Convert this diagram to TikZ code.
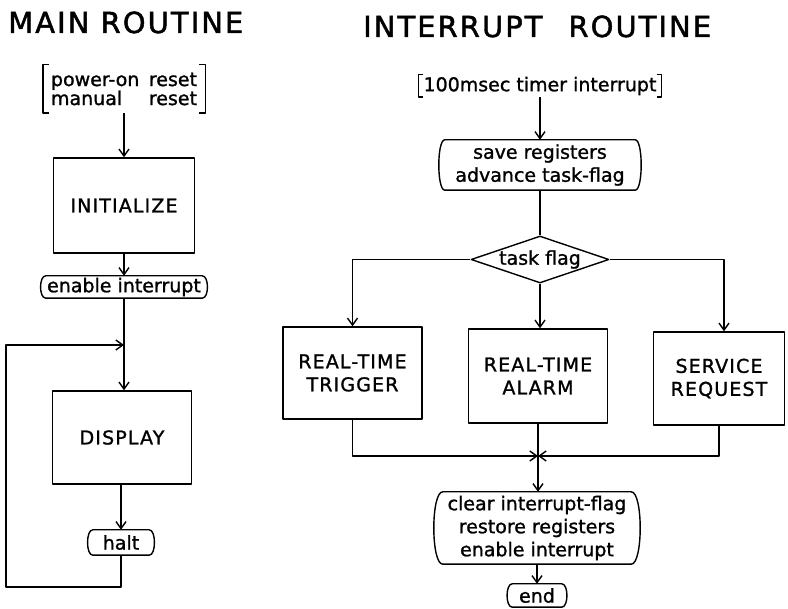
\documentclass[tikz,border=0pt]{standalone}
\usepackage{fontspec}
\setmainfont{DejaVu Sans}
\usetikzlibrary{arrows.meta,shapes.geometric}
\newcommand\bulgeoutline[2]{%
  \draw[ln] (#1.north west) -- (#1.north east)
    .. controls ([xshift=#2]#1.north east) and ([xshift=#2]#1.south east) .. (#1.south east)
    -- (#1.south west)
    .. controls ([xshift=-#2]#1.south west) and ([xshift=-#2]#1.north west) .. (#1.north west) -- cycle;}
\newcommand\bracketoutline[2]{%
  \draw[ln] ([xshift=#2]#1.north west) -- (#1.north west) -- (#1.south west) -- ([xshift=#2]#1.south west);
  \draw[ln] ([xshift=-#2]#1.north east) -- (#1.north east) -- (#1.south east) -- ([xshift=-#2]#1.south east);}
\begin{document}
\begin{tikzpicture}[x=1pt,y=-1pt,
  ln/.style={line width=1.4pt, line join=round},
  arr/.style={ln, -{Straight Barb[length=7pt,width=10pt]}},
  title/.style={font=\fontsize{29}{32}\selectfont\addfontfeature{LetterSpace=7,FakeBold=1.6}, anchor=base west, inner sep=0pt},
  capsbox/.style={draw, ln, font=\fontsize{19}{23}\selectfont\addfontfeature{LetterSpace=6,FakeBold=1.2}, align=center, inner sep=0pt},
  lower/.style={font=\fontsize{19}{23}\selectfont\addfontfeature{FakeBold=1.2}, align=center, inner sep=0pt}
]
\useasboundingbox[fill=white] (0,0) rectangle (788,609);

% titles
\node[title] (t1) at (8,33) {MAIN ROUTINE};
\node[title] (t2) at (363,37) {INTERRUPT\hspace{26pt}ROUTINE};

% main routine
\node[lower, font=\fontsize{19}{19}\selectfont\addfontfeature{FakeBold=1.2}, minimum width=162pt, minimum height=48pt] (reset) at (124,89)
  {\makebox[146pt][s]{power-on reset}\\\makebox[146pt][s]{manual reset}};
\node[capsbox, minimum width=141pt, minimum height=95pt] (init) at (124,205.5) {INITIALIZE};
\node[lower, minimum width=156pt, minimum height=22pt] (enable) at (124,287) {enable interrupt};
\node[capsbox, minimum width=139pt, minimum height=93pt] (display) at (122,437.5) {DISPLAY};
\node[lower, minimum width=56pt, minimum height=25pt] (halt) at (121,542.5) {halt};

\bracketoutline{reset}{6pt}
\bulgeoutline{enable}{7pt}
\bulgeoutline{halt}{7pt}

\draw[arr] (reset) -- (init);
\draw[arr] (init) -- (enable);
\draw[arr] (enable.south) -- (enable.south |- display.north);
\draw[arr] (display.south -| halt.north) -- (halt.north);
\coordinate (lb) at (6,587);
\coordinate (lt) at (6,345);
\draw[arr] (halt.south) -- (halt.south |- lb) -- (lb) -- (lt) -- (lt -| enable.south);

% interrupt routine
\node[lower, minimum width=243pt, minimum height=22pt] (timer) at (540,86) {100msec timer interrupt};
\node[lower, minimum width=190pt, minimum height=50pt] (save) at (540,165) {save registers\\advance task-flag};
\node[diamond, draw, ln, lower, aspect=2.9, minimum width=138pt, minimum height=47pt] (flag) at (540,259.5) {task flag};
\node[capsbox, minimum width=139pt, minimum height=92pt] (trig) at (352.5,373) {REAL-TIME\\TRIGGER};
\node[capsbox, minimum width=139pt, minimum height=94pt] (alarm) at (538,376) {REAL-TIME\\ALARM};
\node[capsbox, minimum width=131pt, minimum height=93pt] (serv) at (719,378.5) {SERVICE\\REQUEST};
\node[lower, minimum width=188pt, minimum height=72pt] (clear) at (537,528) {clear interrupt-flag\\restore registers\\enable interrupt};
\node[lower, minimum width=49pt, minimum height=23pt] (end) at (537,595.5) {end};

\bracketoutline{timer}{5pt}
\bulgeoutline{save}{8pt}
\bulgeoutline{clear}{12pt}
\bulgeoutline{end}{7pt}

\draw[arr] (timer) -- (save);
\draw[ln] (save) -- (flag);
\draw[arr] (flag.west) -| (trig.north);
\draw[arr] (flag.east) -| ([xshift=5pt]serv.north);
\draw[arr] (flag.south) -- (flag.south |- alarm.north);
\coordinate (m) at (538,456);
\draw[arr] (trig.south) |- (m);
\draw[arr] (serv.south) |- (m);
\draw[arr] (alarm.south) -- (alarm.south |- clear.north);
\draw[arr] (clear) -- (end);
\end{tikzpicture}
\end{document}
